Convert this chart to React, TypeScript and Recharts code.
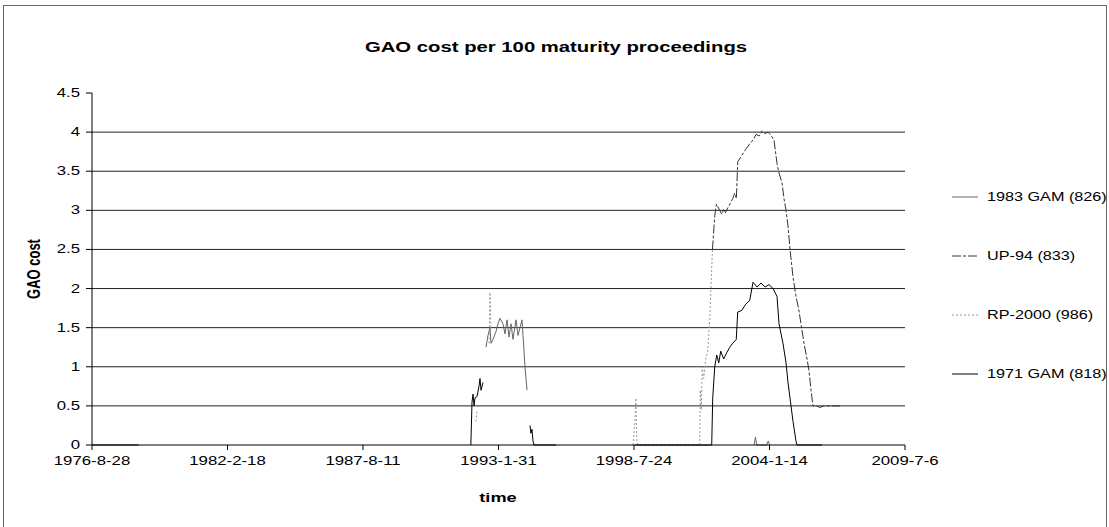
import React from 'react';
import { LineChart, Line, XAxis, YAxis, CartesianGrid } from 'recharts';

// date, value (null = gap in the series)
type Pt = [string, number | null];

const gam1971: Pt[] = [
  ['1976-8-28', 0], ['1978-7-20', 0], ['1978-8-1', null],
  ['1991-12-20', 0], ['1992-1-6', 0.55], ['1992-1-21', 0.65], ['1992-2-5', 0.5], ['1992-2-19', 0.6],
  ['1992-3-20', 0.62], ['1992-4-18', 0.75], ['1992-5-3', 0.85], ['1992-5-18', 0.7], ['1992-6-16', 0.8],
  ['1992-7-1', null],
  ['1994-5-11', 0.25], ['1994-5-25', 0.15], ['1994-6-9', 0.2], ['1994-6-24', 0.05], ['1994-7-10', 0],
  ['1995-6-1', 0], ['1995-7-1', null],
  ['1998-8-1', 0], ['2001-9-13', 0], ['2001-9-28', 0.6], ['2001-10-28', 1.0], ['2001-11-26', 1.15],
  ['2001-12-26', 1.05], ['2002-1-24', 1.2], ['2002-3-9', 1.1], ['2002-4-23', 1.18], ['2002-6-6', 1.25],
  ['2002-7-20', 1.3], ['2002-9-10', 1.35], ['2002-10-2', 1.7], ['2002-11-30', 1.72], ['2003-1-28', 1.8],
  ['2003-3-28', 1.85], ['2003-5-16', 2.08], ['2003-7-14', 2.02], ['2003-9-11', 2.07], ['2003-11-10', 2.02],
  ['2004-1-7', 2.05], ['2004-3-6', 2.0], ['2004-5-4', 1.9], ['2004-6-2', 1.55], ['2004-7-31', 1.3],
  ['2004-9-14', 1.05], ['2004-10-13', 0.8], ['2004-11-12', 0.6], ['2004-12-26', 0.3], ['2005-2-8', 0.05],
  ['2005-2-23', 0], ['2006-2-27', 0],
];

const gam1983: Pt[] = [
  ['1992-7-30', 1.25], ['1992-8-29', 1.4], ['1992-9-28', 1.5], ['1992-10-12', 1.3], ['1992-11-11', 1.35],
  ['1992-12-25', 1.45], ['1993-1-24', 1.55], ['1993-2-22', 1.62], ['1993-4-7', 1.55], ['1993-5-7', 1.42],
  ['1993-6-6', 1.6], ['1993-7-5', 1.38], ['1993-8-4', 1.55], ['1993-9-2', 1.35], ['1993-10-16', 1.6],
  ['1993-11-15', 1.4], ['1993-12-14', 1.5], ['1994-1-13', 1.6], ['1994-1-28', 1.4], ['1994-2-26', 1.0],
  ['1994-3-13', 0.85], ['1994-3-28', 0.7], ['1994-4-15', null],
  ['2003-6-1', 0], ['2003-6-20', 0.1], ['2003-7-10', 0], ['2003-12-1', 0], ['2003-12-25', 0.05], ['2004-1-20', 0],
];

const up94: Pt[] = [
  ['2001-9-24', 2.5], ['2001-10-28', 2.93], ['2001-11-22', 3.08], ['2002-1-9', 3.0], ['2002-2-10', 2.95],
  ['2002-3-9', 3.02], ['2002-4-5', 2.97], ['2002-5-7', 3.03], ['2002-6-21', 3.1], ['2002-7-20', 3.15],
  ['2002-8-19', 3.22], ['2002-9-12', 3.15], ['2002-10-2', 3.62], ['2002-11-30', 3.7], ['2003-1-28', 3.78],
  ['2003-3-28', 3.85], ['2003-5-16', 3.9], ['2003-6-30', 3.97], ['2003-8-13', 3.95], ['2003-9-26', 4.02],
  ['2003-11-10', 3.98], ['2003-12-23', 4.0], ['2004-2-5', 3.96], ['2004-3-20', 3.9], ['2004-5-4', 3.6],
  ['2004-5-26', 3.5], ['2004-7-17', 3.35], ['2004-8-15', 3.15], ['2004-9-14', 3.0], ['2004-10-13', 2.8],
  ['2004-11-12', 2.5], ['2004-12-26', 2.15], ['2005-2-8', 1.9], ['2005-3-17', 1.75], ['2005-4-23', 1.55],
  ['2005-6-6', 1.3], ['2005-7-21', 1.1], ['2005-8-19', 0.95], ['2005-9-18', 0.7], ['2005-10-17', 0.5],
  ['2005-12-1', 0.5], ['2006-1-29', 0.48], ['2006-3-29', 0.5], ['2006-11-20', 0.5],
];

const rp2000: Pt[] = [
  ['1992-3-5', 0.3], ['1992-3-20', 0.45], ['1992-4-1', null],
  ['1992-9-13', 1.3], ['1992-9-28', 1.95], ['1992-10-12', 1.5], ['1992-10-30', null],
  ['1998-7-10', 0], ['1998-8-6', 0.3], ['1998-8-20', 0.6], ['1998-9-4', 0.05], ['1998-9-20', 0],
  ['2001-3-20', 0], ['2001-3-28', 0.7], ['2001-4-12', 0.45], ['2001-4-26', 1.0], ['2001-5-18', 0.85],
  ['2001-6-17', 1.1], ['2001-7-16', 1.2], ['2001-8-15', 1.6], ['2001-9-24', 2.5],
];

const xTickLabels = ['1976-8-28', '1982-2-18', '1987-8-11', '1993-1-31', '1998-7-24', '2004-1-14', '2009-7-6'];
const yTicks = [0, 0.5, 1, 1.5, 2, 2.5, 3, 3.5, 4, 4.5];
const gridValues = [0.5, 1, 1.5, 2, 2.5, 3, 3.5, 4];

const FONT = '"Liberation Sans", Arial, sans-serif';
const SX = 1.4; // the scanned chart is stretched sideways

const toDay = (s: string) => {
  const [y, m, d] = s.split('-').map(Number);
  return Date.UTC(y, m - 1, d) / 86400000;
};
const toRows = (pts: Pt[]) => pts.map(([d, v]) => ({ t: toDay(d), v }));

const xTicks = xTickLabels.map(toDay);

const series = [
  { name: '1983 GAM (826)', data: gam1983, color: '#666', dash: undefined },
  { name: 'UP-94 (833)', data: up94, color: '#333', dash: '9 2 3 2' },
  { name: 'RP-2000 (986)', data: rp2000, color: '#999', dash: '2 2' },
  { name: '1971 GAM (818)', data: gam1971, color: '#000', dash: undefined },
];

const XTick = (props: any) => {
  const { x, y, payload } = props;
  const i = xTicks.indexOf(payload.value);
  return (
    <g transform={`translate(${x},${y})`}>
      <text transform={`scale(${SX},1)`} textAnchor="middle" dy={13} fontSize={12} fontFamily={FONT} fill="#000">
        {i >= 0 ? xTickLabels[i] : ''}
      </text>
    </g>
  );
};

const YTick = (props: any) => {
  const { x, y, payload } = props;
  return (
    <g transform={`translate(${x},${y})`}>
      <text transform={`scale(${SX},1)`} textAnchor="end" dy={4} fontSize={12} fontFamily={FONT} fill="#000">
        {String(payload.value)}
      </text>
    </g>
  );
};

export default function App() {
  return (
    <div style={{ position: 'absolute', left: 0, top: 0, width: 1109, height: 527, overflow: 'hidden', background: '#fff' }}>
      <div style={{ position: 'absolute', left: 3, top: 5, width: 1102, height: 540, border: '1px solid #666' }} />
      <LineChart
        width={1109}
        height={527}
        margin={{ top: 93, right: 204, bottom: 52, left: 32 }}
        style={{ position: 'absolute', left: 0, top: 0 }}
      >
        <CartesianGrid vertical={false} horizontalValues={gridValues} stroke="#222" strokeWidth={1} />
        <XAxis
          type="number"
          dataKey="t"
          domain={[xTicks[0], xTicks[xTicks.length - 1]]}
          ticks={xTicks}
          interval={0}
          tick={<XTick />}
          tickSize={5}
          height={30}
          stroke="#000"
          allowDataOverflow
        />
        <YAxis
          type="number"
          domain={[0, 4.5]}
          ticks={yTicks}
          interval={0}
          tick={<YTick />}
          tickSize={6}
          tickMargin={6}
          width={60}
          stroke="#000"
        />
        {series.map((s) => (
          <Line
            key={s.name}
            name={s.name}
            data={toRows(s.data)}
            dataKey="v"
            type="linear"
            stroke={s.color}
            strokeWidth={1}
            strokeDasharray={s.dash}
            dot={false}
            connectNulls={false}
            isAnimationActive={false}
          />
        ))}
      </LineChart>
      <svg width={1109} height={527} style={{ position: 'absolute', left: 0, top: 0, pointerEvents: 'none' }}>
        <text transform={`translate(556,52) scale(${SX},1)`} textAnchor="middle" fontSize={14.5} fontWeight="bold" fontFamily={FONT} fill="#000">
          GAO cost per 100 maturity proceedings
        </text>
        <text transform="translate(40,269) rotate(-90) scale(1,1.4)" textAnchor="middle" fontSize={13} fontWeight="bold" fontFamily={FONT} fill="#000">
          GAO cost
        </text>
        <text transform={`translate(498,502) scale(${SX},1)`} textAnchor="middle" fontSize={13} fontWeight="bold" fontFamily={FONT} fill="#000">
          time
        </text>
        {series.map((s, i) => {
          const y = 197 + i * 59;
          return (
            <g key={s.name}>
              <line x1={952} x2={978} y1={y} y2={y} stroke={s.color} strokeWidth={1} strokeDasharray={s.dash} />
              <text transform={`translate(987,${y + 4}) scale(1.35,1)`} fontSize={12} fontFamily={FONT} fill="#000">
                {s.name}
              </text>
            </g>
          );
        })}
      </svg>
    </div>
  );
}
